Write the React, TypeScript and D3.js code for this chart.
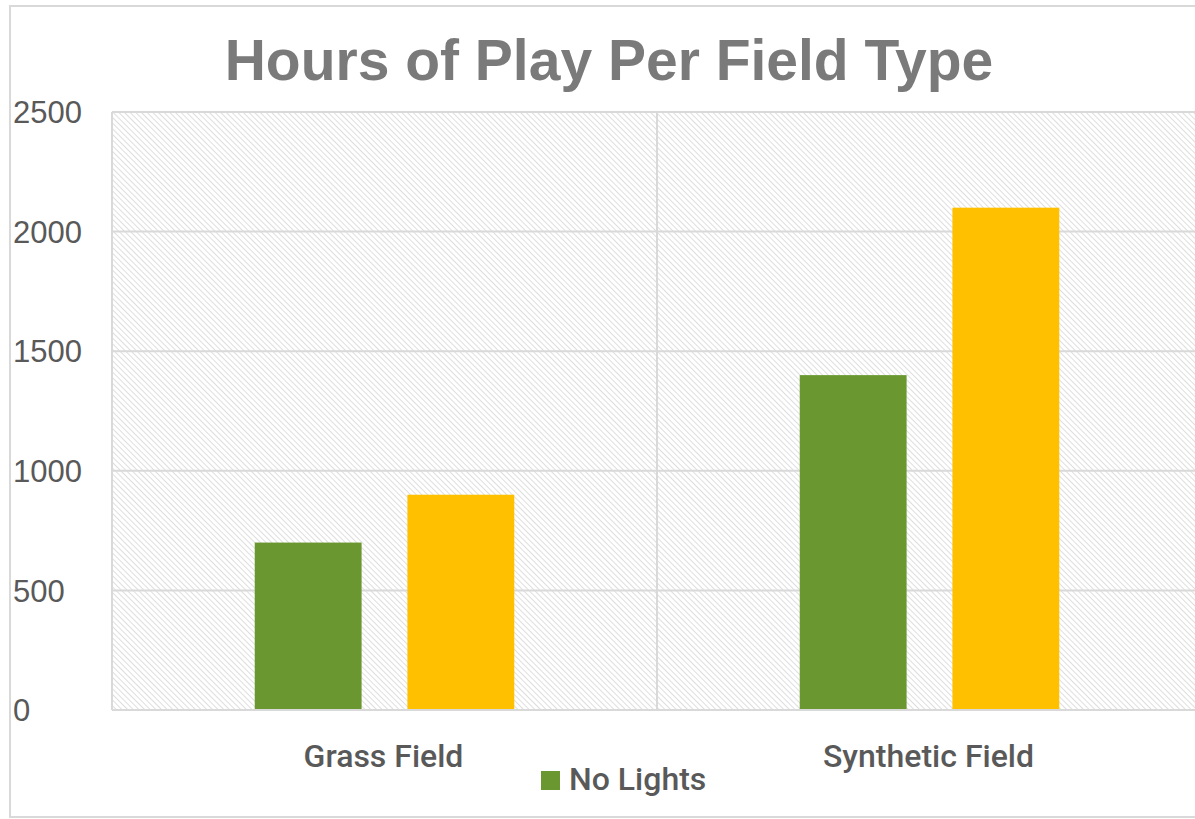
import React, { useEffect, useRef } from 'react';
import * as d3 from 'd3';

const categories = ['Grass Field', 'Synthetic Field'];
const seriesNames = ['No Lights', 'With Lights'];
const noLights = [700, 1400];
const withLights = [900, 2100];
const yTicks = [0, 500, 1000, 1500, 2000, 2500];
const colors = ['#6a972f', '#ffc000'];

const App: React.FC = () => {
  const svgRef = useRef<SVGSVGElement>(null);

  useEffect(() => {
    if (!svgRef.current) return;
    const W = 1195;
    const H = 819;
    const margin = { top: 112, right: -7, bottom: 109, left: 112 };
    const width = W - margin.left - margin.right;
    const height = H - margin.top - margin.bottom;

    const root = d3.select(svgRef.current);
    root.selectAll('*').remove();
    root.attr('width', W).attr('height', H);

    const defs = root.append('defs');
    const pat = defs.append('pattern')
      .attr('id', 'hatch')
      .attr('patternUnits', 'userSpaceOnUse')
      .attr('width', 4)
      .attr('height', 4)
      .attr('patternTransform', 'rotate(-45)');
    pat.append('rect').attr('width', 4).attr('height', 4).attr('fill', '#ffffff');
    pat.append('line')
      .attr('x1', 0).attr('y1', 0).attr('x2', 0).attr('y2', 4)
      .attr('stroke', '#d6d6d6').attr('stroke-width', 1.6);

    root.append('rect')
      .attr('width', W).attr('height', H).attr('fill', '#ffffff');
    root.append('rect')
      .attr('x', 10).attr('y', 6).attr('width', W).attr('height', 811)
      .attr('fill', 'none').attr('stroke', '#d9d9d9').attr('stroke-width', 2);

    root.append('text')
      .attr('x', 609).attr('y', 80)
      .attr('text-anchor', 'middle')
      .attr('font-family', '"Liberation Sans", Arial, sans-serif')
      .attr('font-weight', 'bold')
      .attr('font-size', 57)
      .attr('fill', '#7a7a7a')
      .text('Hours of Play Per Field Type');

    const g = root.append('g').attr('transform', `translate(${margin.left},${margin.top})`);

    const x0 = d3.scaleBand().domain(categories).range([0, width]).padding(0);
    const y = d3.scaleLinear().domain([0, 2500]).range([height, 0]);

    g.append('rect')
      .attr('width', width).attr('height', height)
      .attr('fill', 'url(#hatch)');

    g.selectAll('.grid')
      .data(yTicks)
      .enter()
      .append('line')
      .attr('x1', 0).attr('x2', width)
      .attr('y1', d => y(d)).attr('y2', d => y(d))
      .attr('stroke', '#d9d9d9').attr('stroke-width', 2);

    const seps = [0, ...categories.map(c => (x0(c) as number) + x0.bandwidth())];
    g.selectAll('.sep')
      .data(seps)
      .enter()
      .append('line')
      .attr('x1', d => d).attr('x2', d => d)
      .attr('y1', 0).attr('y2', height)
      .attr('stroke', '#d9d9d9').attr('stroke-width', 2);

    const x1 = d3.scaleBand().domain(seriesNames).range([0, x0.bandwidth()]).paddingInner(0.3).paddingOuter(0.935);
    const data = categories.map((c, i) => ({ cat: c, vals: [noLights[i], withLights[i]] }));

    const groups = g.selectAll('.cat')
      .data(data)
      .enter()
      .append('g')
      .attr('transform', d => `translate(${x0(d.cat)},0)`);

    groups.selectAll('rect')
      .data(d => d.vals.map((v, j) => ({ name: seriesNames[j], v, j })))
      .enter()
      .append('rect')
      .attr('x', d => x1(d.name) as number)
      .attr('width', x1.bandwidth())
      .attr('y', d => y(d.v))
      .attr('height', d => height - y(d.v))
      .attr('fill', d => colors[d.j]);

    g.append('line')
      .attr('x1', 0).attr('x2', width)
      .attr('y1', height).attr('y2', height)
      .attr('stroke', '#d9d9d9').attr('stroke-width', 2);

    root.selectAll('.ytick')
      .data(yTicks)
      .enter()
      .append('text')
      .attr('x', 13)
      .attr('y', d => margin.top + y(d))
      .attr('dy', '0.36em')
      .attr('font-family', '"Liberation Sans", Arial, sans-serif')
      .attr('font-size', 31)
      .attr('fill', '#595959')
      .text(d => String(d));

    g.selectAll('.xlab')
      .data(categories)
      .enter()
      .append('text')
      .attr('x', d => (x0(d) as number) + x0.bandwidth() / 2 - 1)
      .attr('y', height + 57)
      .attr('text-anchor', 'middle')
      .attr('font-family', 'Roboto, sans-serif')
      .attr('font-weight', 500)
      .attr('font-size', 32)
      .attr('fill', '#595959')
      .text(d => d);

    const leg = root.append('g').attr('transform', 'translate(541,771)');
    leg.append('rect').attr('width', 19).attr('height', 19).attr('fill', colors[0]);
    leg.append('text')
      .attr('x', 28).attr('y', 19)
      .attr('font-family', 'Roboto, sans-serif')
      .attr('font-weight', 500)
      .attr('font-size', 32)
      .attr('fill', '#595959')
      .text(seriesNames[0]);
  }, []);

  return (
    <div style={{ position: 'absolute', left: 0, top: 0 }}>
      <svg ref={svgRef} style={{ display: 'block' }}></svg>
    </div>
  );
};

export default App;
